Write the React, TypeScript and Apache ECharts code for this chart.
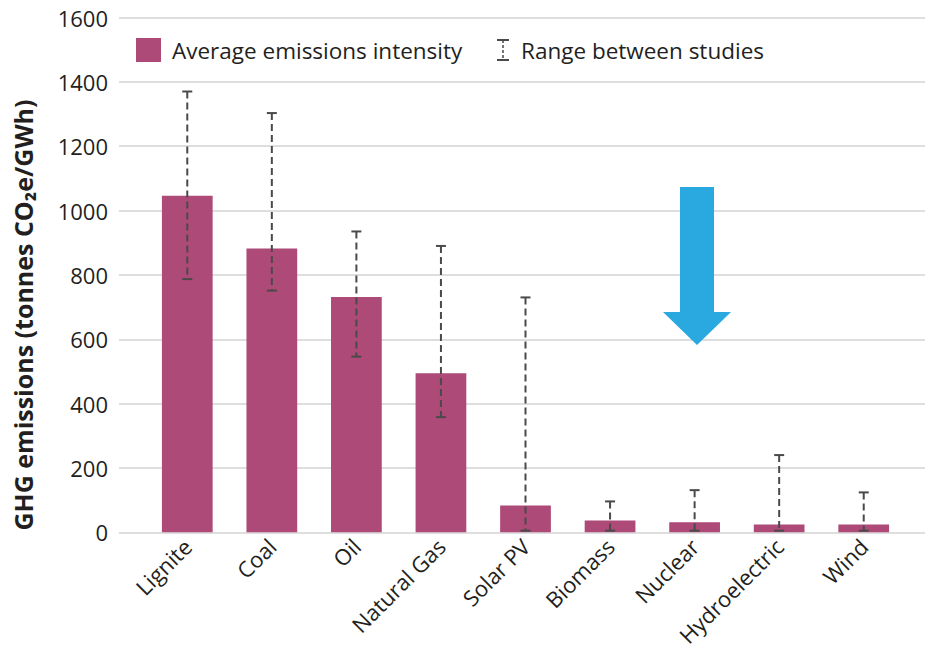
import React, { useEffect, useRef } from "react";
import * as echarts from "echarts";

const categories = ["Lignite", "Coal", "Oil", "Natural Gas", "Solar PV", "Biomass", "Nuclear", "Hydroelectric", "Wind"];
const averages = [1046, 882, 731, 494, 83, 37, 31, 24, 24];
const rangeLow = [787, 751, 546, 358, 5, 5, 5, 5, 5];
const rangeHigh = [1370, 1303, 935, 890, 730, 96, 131, 240, 124];
const yTicks = { min: 0, max: 1600, interval: 200 };

const FONT = "'Open Sans', 'Noto Sans', sans-serif";
const BAR_COLOR = "#AE4A77";
const ERR_COLOR = "#4a4a4a";
const GRID_COLOR = "#d3d3d3";
const TEXT_COLOR = "#231f20";

export default function App() {
  const ref = useRef<HTMLDivElement>(null);

  useEffect(() => {
    if (!ref.current) return;
    const chart = echarts.init(ref.current, null, { renderer: "svg" });
    const top = 17.5;
    const bottom = 653 - 532.3;

    const errData = categories.map((_, i) => [i, rangeLow[i], rangeHigh[i]]);

    const option: any = {
      animation: false,
      backgroundColor: "#ffffff",
      textStyle: { fontFamily: FONT },
      grid: [
        { left: 119, right: 0, top, bottom },
        { left: 145, right: 19, top, bottom },
      ],
      xAxis: [
        { gridIndex: 0, type: "value", show: false, min: 0, max: 1 },
        {
          gridIndex: 1,
          type: "category",
          data: categories,
          axisLine: { show: false },
          axisTick: { show: false },
          axisLabel: {
            interval: 0,
            rotate: 45,
            margin: 10,
            fontSize: 22,
            color: TEXT_COLOR,
            fontFamily: FONT,
          },
        },
      ],
      yAxis: [
        {
          gridIndex: 0,
          type: "value",
          min: yTicks.min,
          max: yTicks.max,
          interval: yTicks.interval,
          axisLine: { show: false },
          axisTick: { show: false },
          splitLine: { show: true, lineStyle: { color: GRID_COLOR, width: 1.5 } },
          axisLabel: {
            fontSize: 22,
            color: TEXT_COLOR,
            margin: 11,
            fontFamily: FONT,
            formatter: (v: number) => String(v),
          },
        },
        {
          gridIndex: 1,
          type: "value",
          min: yTicks.min,
          max: yTicks.max,
          interval: yTicks.interval,
          show: false,
        },
      ],
      series: [
        {
          name: "Average emissions intensity",
          type: "bar",
          xAxisIndex: 1,
          yAxisIndex: 1,
          data: averages,
          barWidth: "60%",
          itemStyle: { color: BAR_COLOR },
        },
        {
          name: "Range between studies",
          type: "custom",
          xAxisIndex: 1,
          yAxisIndex: 1,
          data: errData,
          z: 5,
          renderItem: (params: any, api: any) => {
            const idx = api.value(0);
            const lo = api.coord([idx, api.value(1)]);
            const hi = api.coord([idx, api.value(2)]);
            const hw = 5;
            const stroke = { stroke: ERR_COLOR, lineWidth: 2 };
            return {
              type: "group",
              children: [
                {
                  type: "line",
                  shape: { x1: hi[0], y1: hi[1], x2: lo[0], y2: lo[1] },
                  style: { ...stroke, lineDash: [7, 4] },
                },
                {
                  type: "line",
                  shape: { x1: hi[0] - hw, y1: hi[1], x2: hi[0] + hw, y2: hi[1] },
                  style: stroke,
                },
                {
                  type: "line",
                  shape: { x1: lo[0] - hw, y1: lo[1], x2: lo[0] + hw, y2: lo[1] },
                  style: stroke,
                },
              ],
            };
          },
        },
      ],
      graphic: [
        {
          type: "text",
          x: 23,
          y: 315,
          rotation: Math.PI / 2,
          style: {
            text: "GHG emissions (tonnes CO₂e/GWh)",
            fontSize: 25,
            fontWeight: "bold",
            fontFamily: FONT,
            fill: TEXT_COLOR,
            align: "center",
            verticalAlign: "middle",
          },
        },
        {
          type: "rect",
          shape: { x: 136, y: 38, width: 25, height: 24 },
          style: { fill: BAR_COLOR },
        },
        {
          type: "text",
          x: 172,
          y: 50,
          style: {
            text: "Average emissions intensity",
            fontSize: 22.5,
            fontFamily: FONT,
            fill: TEXT_COLOR,
            align: "left",
            verticalAlign: "middle",
          },
        },
        {
          type: "line",
          shape: { x1: 497, y1: 40, x2: 509, y2: 40 },
          style: { stroke: ERR_COLOR, lineWidth: 2 },
        },
        {
          type: "line",
          shape: { x1: 497, y1: 60, x2: 509, y2: 60 },
          style: { stroke: ERR_COLOR, lineWidth: 2 },
        },
        {
          type: "line",
          shape: { x1: 503, y1: 40, x2: 503, y2: 60 },
          style: { stroke: ERR_COLOR, lineWidth: 1.5, lineDash: [3, 2] },
        },
        {
          type: "text",
          x: 521,
          y: 50,
          style: {
            text: "Range between studies",
            fontSize: 22.5,
            fontFamily: FONT,
            fill: TEXT_COLOR,
            align: "left",
            verticalAlign: "middle",
          },
        },
        {
          type: "polygon",
          shape: {
            points: [
              [680, 187],
              [714, 187],
              [714, 312],
              [731, 312],
              [697, 345],
              [663, 312],
              [680, 312],
            ],
          },
          style: { fill: "#29A9E0" },
          z: 10,
        },
      ],
    };

    chart.setOption(option);
    return () => chart.dispose();
  }, []);

  return (
    <div
      ref={ref}
      style={{ position: "fixed", left: 0, top: 0, width: 925, height: 653, background: "#fff" }}
    />
  );
}
